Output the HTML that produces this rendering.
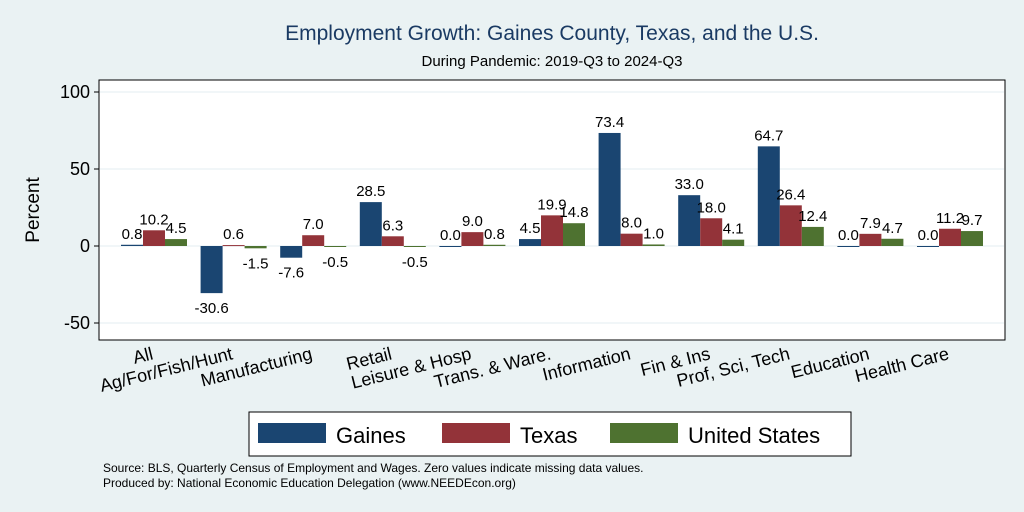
<!DOCTYPE html>
<html><head><meta charset="utf-8"><style>
body{margin:0;background:#eaf2f3;}
svg{display:block;font-family:"Liberation Sans",sans-serif;}
</style></head><body>
<svg id="c" width="1024" height="512">
<rect x="0" y="0" width="1024" height="512" fill="#eaf2f3"/>
<text x="552" y="40" font-size="21" fill="#1a3a63" text-anchor="middle">Employment Growth: Gaines County, Texas, and the U.S.</text>
<text x="552" y="66" font-size="15" fill="#000" text-anchor="middle">During Pandemic: 2019-Q3 to 2024-Q3</text>
<rect x="99" y="80" width="906" height="260" fill="#fff" stroke="#000" stroke-width="1"/>
<g id="grid"></g><g id="bars"></g><g id="labels"></g><g id="axis"></g>
<text transform="translate(39,210) rotate(-90)" font-size="19" text-anchor="middle">Percent</text>
<rect x="249" y="412" width="602" height="44" fill="#fff" stroke="#000"/>
<g><rect x="258" y="423" width="68" height="20" fill="#1a4571"/><text x="336" y="443" font-size="22">Gaines</text></g>
<g><rect x="442" y="423" width="68" height="20" fill="#933339"/><text x="520" y="443" font-size="22">Texas</text></g>
<g><rect x="610" y="423" width="68" height="20" fill="#4e7230"/><text x="688" y="443" font-size="22">United States</text></g>
<text x="103" y="472" font-size="12">Source: BLS, Quarterly Census of Employment and Wages. Zero values indicate missing data values.</text>
<text x="103" y="487" font-size="12">Produced by: National Economic Education Delegation (www.NEEDEcon.org)</text>
</svg>
<script>
const categories=["All","Ag/For/Fish/Hunt","Manufacturing","Retail","Leisure & Hosp","Trans. & Ware.","Information","Fin & Ins","Prof, Sci, Tech","Education","Health Care"];
const gaines=[0.8,-30.6,-7.6,28.5,0.0,4.5,73.4,33.0,64.7,0.0,0.0];
const texas=[10.2,0.6,7.0,6.3,9.0,19.9,8.0,18.0,26.4,7.9,11.2];
const us=[4.5,-1.5,-0.5,-0.5,0.8,14.8,1.0,4.1,12.4,4.7,9.7];
const yTicks=[-50,0,50,100];
const seriesList=[gaines,texas,us];
const seriesNames=["gaines","texas","us"];
const colors=["#1a4571","#933339","#4e7230"];
const NS="http://www.w3.org/2000/svg";
function y(v){return 246-v*1.54;}
function xc(i){return 154+i*79.6;}
function mk(t,a,p){const e=document.createElementNS(NS,t);for(const k in a)e.setAttribute(k,a[k]);p.appendChild(e);return e;}
const grid=document.getElementById('grid'),axis=document.getElementById('axis'),bars=document.getElementById('bars'),labels=document.getElementById('labels');
yTicks.forEach(t=>{
 const l=mk('line',{x1:100,x2:1004,y1:y(t),y2:y(t),stroke:'#e3edf0','stroke-width':1},grid);
 
 
 mk('line',{x1:94,x2:99,y1:y(t),y2:y(t),stroke:'#000'},axis);
 const tx=mk('text',{x:90,y:y(t)+6,'font-size':18,'text-anchor':'end'},axis);
 tx.textContent=t;
 
 
});
categories.forEach((c,i)=>{
 seriesList.forEach((s,j)=>{
  const v=s[i],x0=xc(i)-33+j*22;
  const r=mk('rect',{x:x0,y:Math.min(y(v),y(0)),width:22,height:Math.max(Math.abs(y(v)-y(0)),1),fill:colors[j]},bars);
  
  
  const ty=v>=0?y(v)-6:y(v)+20;
  const t=mk('text',{x:x0+11,y:ty,'font-size':15,'text-anchor':'middle'},labels);
  t.textContent=v.toFixed(1);
  
  
 });
 const t=mk('text',{transform:`translate(${xc(i)},359) rotate(-14)`,'font-size':18,'text-anchor':'end'},axis);
 t.textContent=c;
 
 
});
</script>
</body></html>
